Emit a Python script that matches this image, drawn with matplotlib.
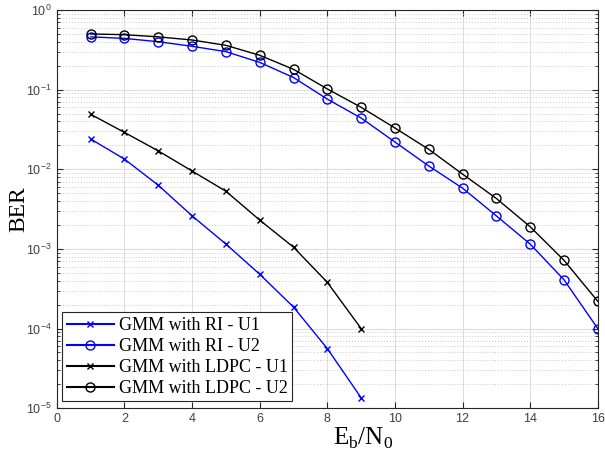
import matplotlib
matplotlib.use("Agg")
import matplotlib.pyplot as plt

plt.rcParams["mathtext.fontset"] = "custom"
plt.rcParams["mathtext.rm"] = "Liberation Sans"
plt.rcParams["mathtext.it"] = "Liberation Sans:italic"

# Eb/N0 values (dB)
snr_u1 = [1, 2, 3, 4, 5, 6, 7, 8, 9]
snr_u2 = [1, 2, 3, 4, 5, 6, 7, 8, 9, 10, 11, 12, 13, 14, 15, 16]

ber_ri_u1 = [0.024, 0.0134, 0.0063, 0.0026, 0.00115, 0.00048, 0.000186, 5.6e-5, 1.35e-5]
ber_ri_u2 = [0.46, 0.44, 0.40, 0.35, 0.30, 0.22, 0.142, 0.076, 0.044, 0.022, 0.011,
             0.0058, 0.0026, 0.00115, 0.00041, 1.0e-4]
ber_ldpc_u1 = [0.049, 0.029, 0.017, 0.0095, 0.0053, 0.0023, 0.00105, 0.00038, 1.0e-4]
ber_ldpc_u2 = [0.50, 0.49, 0.46, 0.42, 0.36, 0.27, 0.18, 0.102, 0.060, 0.033, 0.0178,
               0.0087, 0.0043, 0.0019, 0.00072, 0.00022]

labels = ["GMM with RI - U1", "GMM with RI - U2",
          "GMM with LDPC - U1", "GMM with LDPC - U2"]

fig = plt.figure(figsize=(6.05, 4.55), dpi=100)
ax = fig.add_axes([0.094, 0.103, 0.894, 0.875])

ax.semilogy(snr_u1, ber_ri_u1, "x-", color="#0000ff", lw=1, ms=5, label=labels[0])
ax.semilogy(snr_u2, ber_ri_u2, "o-", color="#0000ff", lw=1, ms=6.5, mfc="none", label=labels[1])
ax.semilogy(snr_u1, ber_ldpc_u1, "x-", color="black", lw=1, ms=5, label=labels[2])
ax.semilogy(snr_u2, ber_ldpc_u2, "o-", color="black", lw=1, ms=6.5, mfc="none", label=labels[3])

ax.set_xlim(0, 16)
ax.set_ylim(1e-5, 1)
ax.set_xticks(range(0, 17, 2))

ax.grid(True, which="major", color="#dedede", lw=0.8, ls="-")
ax.grid(True, which="minor", axis="y", color="#c8c8c8", lw=0.7, ls=(0, (1, 2)))
ax.set_axisbelow(True)

ax.tick_params(which="both", direction="in", top=True, right=True,
               colors="#262626", labelcolor="#404040", labelsize=9)
ax.tick_params(which="major", length=4)
ax.tick_params(which="minor", length=2)
for s in ax.spines.values():
    s.set_color("#262626")
    s.set_linewidth(0.8)
for t in ax.get_xticklabels() + ax.get_yticklabels():
    t.set_family("Liberation Sans")

# MATLAB put the x label off-centre, between the 8 and 10 ticks
ax.set_xlabel(r"E$_\mathregular{b}$/N$_\mathregular{0}$", family="Liberation Serif",
              fontsize=18)
ax.xaxis.set_label_coords(0.567, -0.045)
ax.set_ylabel("BER", family="Liberation Serif", fontsize=17, labelpad=-2)

leg = ax.legend(loc="lower left", bbox_to_anchor=(0.003, 0.008), fancybox=False,
                prop={"family": "Liberation Serif", "size": 13},
                edgecolor="#262626", framealpha=1, borderpad=0.25,
                labelspacing=0.22, handlelength=2.6, handletextpad=0.3,
                borderaxespad=0.2)
leg.get_frame().set_linewidth(0.8)
for h in leg.get_lines():
    h.set_linewidth(1.5)

fig.savefig("out.png", dpi=100)
